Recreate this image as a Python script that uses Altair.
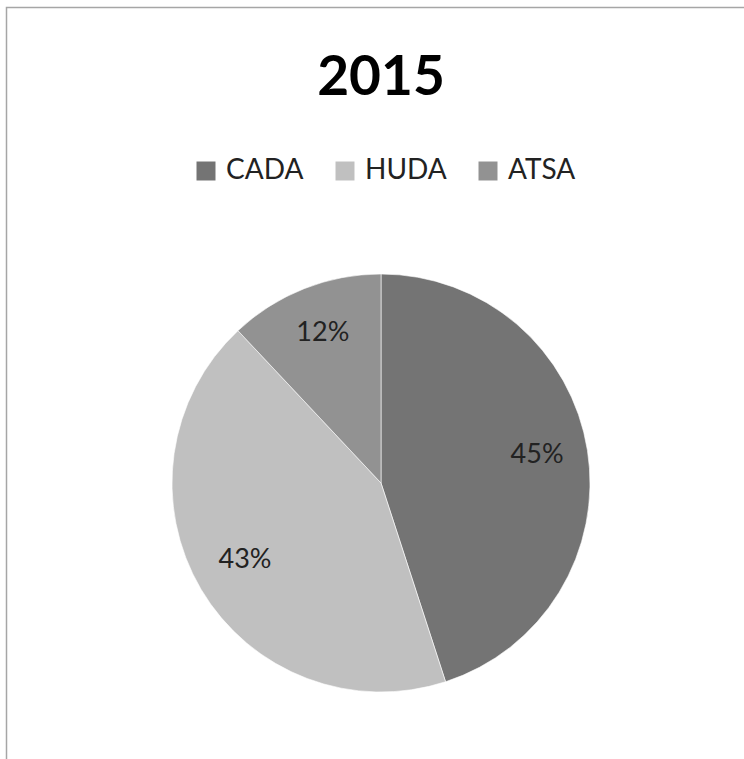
import altair as alt
import pandas as pd

title_text = "2015"
categories = ["CADA", "HUDA", "ATSA"]
values = [45, 43, 12]
labels = ["45%", "43%", "12%"]
colors = ["#747474", "#c0c0c0", "#929292"]

df = pd.DataFrame({"cat": categories, "val": values, "label": labels, "order": [0, 1, 2]})

W, H = 744, 759
CX, CY, R = 381, 483, 209

color = alt.Color(
    "cat:N",
    scale=alt.Scale(domain=categories, range=colors),
    sort=categories,
    legend=alt.Legend(
        title=None,
        orient="none",
        direction="horizontal",
        legendX=192,
        legendY=157,
        padding=0,
        symbolType="square",
        symbolSize=361,
        symbolStrokeWidth=0,
        symbolOpacity=1,
        labelFont="Lato",
        labelFontSize=28,
        labelColor="#222222",
        labelOffset=6,
        columnPadding=27,
        labelLimit=300,
    ),
)

base = alt.Chart(df).encode(
    theta=alt.Theta("val:Q", stack=True),
    order=alt.Order("order:Q"),
)

pie = base.mark_arc(radius=R, stroke="#ffffff", strokeWidth=0.6).encode(
    color=color,
    x=alt.value(CX),
    y=alt.value(CY),
)

text = base.mark_text(radius=158, font="Lato", fontSize=27, color="#222222").encode(
    text="label:N",
    x=alt.value(CX),
    y=alt.value(CY - 3),
)

frame = alt.Chart(pd.DataFrame({"a": [0]})).mark_rect(
    fill=None, stroke="#a6a6a6", strokeWidth=1.5
).encode(
    x=alt.value(6.5), x2=alt.value(W + 20), y=alt.value(7.5), y2=alt.value(H + 20)
)

chart = alt.layer(frame, pie, text).properties(
    width=W,
    height=H,
    autosize=alt.AutoSizeParams(type="none"),
    padding=0,
    title=alt.TitleParams(
        text=title_text,
        font="Lato",
        fontSize=55,
        fontWeight="bold",
        color="#000000",
        anchor="middle",
        dx=9,
        dy=111,
    ),
).configure_view(stroke=None)

chart.save("out.html", embed_options={"renderer": "svg", "actions": False})
